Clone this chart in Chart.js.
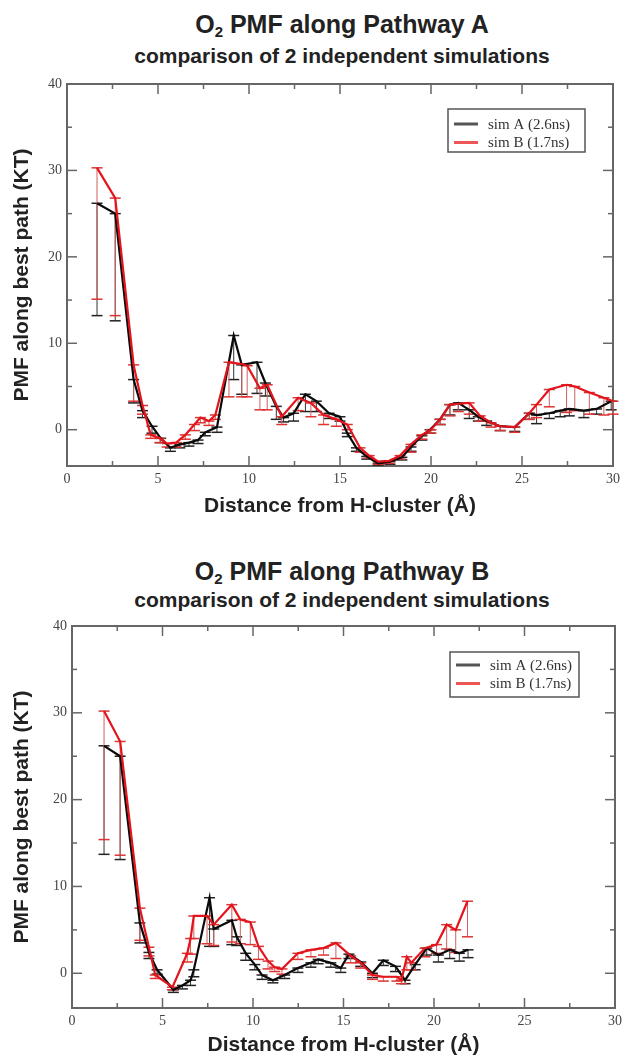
<!DOCTYPE html>
<html>
<head>
<meta charset="utf-8">
<title>O2 PMF along Pathways A and B</title>
<script src="https://cdn.jsdelivr.net/npm/chart.js@4.4.1/dist/chart.umd.min.js"></script>
<style>
  html, body { margin: 0; padding: 0; background: #fff; }
  body {
    position: relative; width: 627px; height: 1057px; overflow: hidden;
    font-family: "Liberation Sans", Arial, sans-serif; color: #222;
  }
  .title, .subtitle {
    position: absolute; left: 42px; width: 600px; text-align: center; font-weight: bold;
  }
  .title { font-size: 25px; line-height: 30px; }
  .subtitle { font-size: 21px; line-height: 24px; }
  .title sub { font-size: 15px; vertical-align: baseline; position: relative; top: 4px; }
  canvas { position: absolute; left: 0; }
</style>
</head>
<body>
<div class="title" style="top:9px">O<sub>2</sub> PMF along Pathway A</div>
<div class="subtitle" style="top:44px">comparison of 2 independent simulations</div>
<canvas id="chart-a" width="627" height="460" style="top:70px"></canvas>

<div class="title" style="top:556px">O<sub>2</sub> PMF along Pathway B</div>
<div class="subtitle" style="top:588px">comparison of 2 independent simulations</div>
<canvas id="chart-b" width="627" height="457" style="top:612px"></canvas>

<script>
'use strict';

// ---- Axis ticks ----
const xMajorTicks = [0, 5, 10, 15, 20, 25, 30];
const xMinorTicks = [2.5, 7.5, 12.5, 17.5, 22.5, 27.5];
const yMajorTicks = [0, 10, 20, 30, 40];
const yMinorTicks = [5, 15, 25, 35];
const xLabel = 'Distance from H-cluster (\u00C5)';
const yLabel = 'PMF along best path (KT)';
const seriesNames = ['sim A (2.6ns)', 'sim B (1.7ns)'];

// ---- Pathway A, sim A (black) ----
const pathA_simA_x = [1.65, 2.65, 3.66, 4.15, 4.67, 5.15, 5.68, 6.2, 6.7, 7.2, 7.6, 8.24, 9.16, 9.6, 10.44,
  10.9, 11.5, 11.9, 12.45, 13.1, 13.7, 14.4, 15.0, 15.4, 15.9, 16.47, 17.1, 17.75, 18.4, 18.9,
  19.5, 19.95, 20.5, 21.04, 21.5, 22.1, 22.6, 23.06, 23.8, 24.6, 25.4, 25.8, 26.5, 27.1, 27.6,
  28.4, 29.1, 29.9];
const pathA_simA_y = [26.2, 25.0, 5.8, 2.2, 0.4, -1.0, -2.1, -1.7, -1.5, -1.2, -0.3, 0.3, 10.9, 7.5, 7.8,
  5.4, 2.7, 1.4, 1.9, 4.1, 3.3, 1.9, 1.5, -0.4, -2.1, -3.1, -3.9, -3.7, -3.2, -2.0,
  -0.7, 0.0, 1.2, 2.9, 3.1, 2.3, 1.5, 1.0, 0.4, 0.3, 1.9, 1.7, 1.9, 2.2, 2.4,
  2.2, 2.4, 3.3];
const pathA_simA_err = [13.0, 12.4, 2.7, 0.8, 0.8, 0.5, 0.4, 0.4, 0.4, 0.4, 0.4, 0.6, 5.1, 3.4, 3.6,
  1.5, 1.5, 0.5, 0.9, 2.0, 1.2, 0.6, 0.5, 0.4, 0.4, 0.3, 0.2, 0.3, 0.3, 0.5,
  0.5, 0.4, 0.6, 1.2, 0.8, 1.0, 0.5, 0.5, 0.5, 0.5, 0.7, 1.0, 0.6, 0.7, 0.8,
  0.8, 0.6, 1.0];

// ---- Pathway A, sim B (red) ----
const pathA_simB_x = [1.65, 2.65, 3.66, 4.15, 4.6, 5.1, 5.5, 6.0, 6.5, 7.0, 7.33, 7.8, 8.15, 8.9, 9.6,
  9.9, 10.6, 11.0, 11.8, 12.7, 13.4, 14.1, 14.8, 15.4, 16.1, 16.6, 17.1, 17.7, 18.3, 18.9,
  19.5, 20.0, 20.5, 21.04, 21.5, 22.1, 22.7, 23.3, 23.8, 24.6, 25.4, 25.8, 26.5, 27.45, 27.9,
  28.7, 29.5, 30.0];
const pathA_simB_y = [30.3, 26.8, 7.5, 2.8, -0.6, -1.0, -1.6, -1.5, -0.6, 0.6, 1.4, 1.0, 1.7, 7.8, 7.6,
  7.4, 4.8, 5.2, 1.5, 3.7, 3.1, 1.7, 1.2, 0.6, -2.1, -3.0, -3.7, -3.6, -3.0, -1.7,
  -0.6, 0.0, 1.2, 2.9, 3.0, 3.1, 1.6, 0.8, 0.4, 0.3, 1.9, 2.9, 4.65, 5.2, 5.0,
  4.3, 3.7, 3.3];
const pathA_simB_err = [15.2, 13.6, 4.2, 1.0, 0.4, 0.5, 0.4, 0.5, 0.5, 0.7, 0.6, 0.5, 0.5, 4.0, 3.8,
  3.6, 2.5, 2.9, 0.9, 1.5, 1.6, 1.1, 0.8, 0.6, 0.5, 0.3, 0.3, 0.3, 0.4, 0.9,
  0.5, 0.4, 0.6, 1.3, 0.9, 1.3, 0.6, 0.5, 0.5, 0.6, 0.7, 1.5, 2.0, 3.2, 2.8,
  2.5, 2.0, 1.5];

// ---- Pathway B, sim A (black) ----
const pathB_simA_x = [1.77, 2.66, 3.75, 4.25, 4.7, 5.6, 6.1, 6.55, 6.73, 7.6, 7.83, 8.83, 9.1, 9.6, 10.1,
  10.5, 11.1, 11.75, 12.48, 13.2, 13.6, 14.3, 14.85, 15.3, 15.95, 16.6, 17.2, 17.87, 18.4, 18.96,
  19.6, 20.24, 20.87, 21.4, 21.88];
const pathB_simA_y = [26.2, 25.0, 5.8, 2.4, 0.4, -1.9, -1.4, -0.8, 0.4, 8.7, 5.1, 6.1, 4.2, 2.3, 1.0,
  -0.2, -0.8, -0.2, 0.6, 1.2, 1.6, 1.2, 0.6, 2.2, 1.3, 0.0, 1.5, 0.8, -0.8, 1.0,
  2.9, 2.1, 2.7, 2.3, 2.7];
const pathB_simA_err = [12.5, 11.9, 2.3, 0.7, 0.5, 0.3, 0.4, 0.6, 0.8, 5.6, 2.0, 2.8, 1.0, 0.8, 0.6,
  0.5, 0.3, 0.4, 0.5, 0.5, 0.5, 0.5, 0.5, 0.5, 0.5, 0.5, 0.6, 0.6, 0.4, 0.6,
  0.8, 0.8, 1.0, 0.9, 0.9];

// ---- Pathway B, sim B (red) ----
const pathB_simB_x = [1.77, 2.66, 3.75, 4.25, 4.6, 5.55, 6.37, 6.55, 6.73, 7.46, 7.83, 8.83, 9.3, 9.85, 10.3,
  10.83, 11.2, 11.6, 12.48, 13.2, 13.9, 14.58, 15.4, 15.95, 16.6, 17.2, 17.95, 18.2, 18.5, 18.75,
  19.5, 20.14, 20.7, 21.2, 21.85];
const pathB_simB_y = [30.2, 26.7, 7.5, 3.0, -0.2, -1.6, 2.3, 4.0, 6.6, 6.6, 5.6, 7.9, 6.2, 5.9, 3.1,
  1.4, 0.7, 0.5, 2.3, 2.7, 2.9, 3.5, 2.0, 1.2, -0.2, -0.4, -0.4, -0.8, 1.9, 1.2,
  2.9, 3.3, 5.6, 5.0, 8.3];
const pathB_simB_err = [14.8, 13.1, 3.7, 1.0, 0.4, 0.3, 1.0, 1.8, 2.6, 3.2, 2.4, 4.3, 2.8, 2.6, 1.5,
  0.9, 0.5, 0.6, 0.7, 0.8, 0.8, 1.8, 0.8, 0.6, 0.5, 0.5, 0.5, 0.4, 1.5, 0.8,
  1.0, 1.0, 2.8, 2.6, 4.1];

const AXIS_GRAY = '#666';
const SERIF = '"Liberation Serif", "Times New Roman", serif';
const SANS = '"Liberation Sans", Arial, sans-serif';

function toPoints(xs, ys) {
  return xs.map((x, i) => ({ x, y: ys[i] }));
}

function strokeLine(ctx, x1, y1, x2, y2) {
  ctx.beginPath();
  ctx.moveTo(x1, y1);
  ctx.lineTo(x2, y2);
  ctx.stroke();
}

// ---- Frame with inward ticks (grace style) ----
const framePlugin = {
  id: 'frame',
  beforeDatasetsDraw(chart) {
    const { ctx, chartArea: a, scales: { x, y } } = chart;
    ctx.save();
    ctx.strokeStyle = AXIS_GRAY;
    ctx.lineWidth = 1.5;
    xMajorTicks.concat(xMinorTicks).forEach(v => {
      const px = x.getPixelForValue(v);
      const len = xMajorTicks.includes(v) ? 10 : 5;
      strokeLine(ctx, px, a.bottom, px, a.bottom - len);
      strokeLine(ctx, px, a.top, px, a.top + len);
    });
    yMajorTicks.concat(yMinorTicks).forEach(v => {
      const py = y.getPixelForValue(v);
      const len = yMajorTicks.includes(v) ? 10 : 5;
      strokeLine(ctx, a.left, py, a.left + len, py);
      strokeLine(ctx, a.right, py, a.right - len, py);
    });
    ctx.lineWidth = 2;
    ctx.strokeRect(a.left, a.top, a.width, a.height);
    ctx.restore();
  }
};

// ---- Error bars (drawn under the lines) ----
const errorBarPlugin = {
  id: 'errorBars',
  beforeDatasetsDraw(chart) {
    const { ctx, scales: { x, y } } = chart;
    ctx.save();
    chart.data.datasets.slice().sort((p, q) => q.order - p.order).forEach(ds => {
      ds.data.forEach((p, i) => {
        const px = x.getPixelForValue(p.x);
        const top = y.getPixelForValue(p.y);
        const bot = y.getPixelForValue(p.y - ds.err[i]);
        ctx.strokeStyle = ds.barColor;
        ctx.lineWidth = 1;
        strokeLine(ctx, px, top, px, bot);
        ctx.strokeStyle = ds.capColor;
        ctx.lineWidth = 1.5;
        strokeLine(ctx, px - 5.5, top, px + 5.5, top);
        strokeLine(ctx, px - 5.5, bot, px + 5.5, bot);
      });
    });
    ctx.restore();
  }
};

// ---- Legend box inside the plot ----
const legendPlugin = {
  id: 'simLegend',
  afterDraw(chart, args, opts) {
    const { ctx, chartArea: a } = chart;
    const x0 = a.right - opts.right - opts.width;
    const y0 = a.top + opts.top;
    ctx.save();
    ctx.fillStyle = '#fff';
    ctx.fillRect(x0, y0, opts.width, opts.height);
    ctx.strokeStyle = '#555';
    ctx.lineWidth = 1.5;
    ctx.strokeRect(x0, y0, opts.width, opts.height);
    const items = chart.data.datasets.slice().sort((p, q) => q.order - p.order);
    items.forEach((ds, i) => {
      const yy = y0 + opts.firstRow + i * opts.rowGap;
      ctx.strokeStyle = ds.legendColor;
      ctx.lineWidth = 3;
      strokeLine(ctx, x0 + 6, yy, x0 + 30, yy);
      ctx.fillStyle = '#333';
      ctx.font = '15px ' + SERIF;
      ctx.textBaseline = 'middle';
      ctx.fillText(ds.label, x0 + 40, yy + 1);
    });
    ctx.restore();
  }
};

function buildChart(canvasId, s) {
  const tickFont = { family: SERIF, size: 14 };
  const titleFont = { family: SANS, size: 21, weight: 'bold' };
  return new Chart(document.getElementById(canvasId), {
    type: 'line',
    data: {
      datasets: [{
        label: seriesNames[0],
        data: toPoints(s.xA, s.yA),
        err: s.eA,
        borderColor: '#0a0a0a',
        barColor: '#333',
        capColor: '#222',
        legendColor: '#555',
        borderWidth: 2.2,
        pointRadius: 0,
        tension: 0,
        order: 1
      }, {
        label: seriesNames[1],
        data: toPoints(s.xB, s.yB),
        err: s.eB,
        borderColor: '#e3141c',
        barColor: '#d06060',
        capColor: '#dd3333',
        legendColor: '#ee5555',
        borderWidth: 2.2,
        pointRadius: 0,
        tension: 0,
        order: 0
      }]
    },
    options: {
      responsive: false,
      animation: false,
      devicePixelRatio: 1,
      layout: { padding: { top: 14, right: s.padRight, bottom: 0, left: 0 } },
      plugins: {
        legend: { display: false },
        tooltip: { enabled: false },
        simLegend: s.legend
      },
      scales: {
        x: {
          type: 'linear',
          min: 0,
          max: 30,
          afterBuildTicks: sc => { sc.ticks = xMajorTicks.map(v => ({ value: v })); },
          afterFit: sc => { sc.height = s.xAxisHeight; },
          grid: { display: false, drawTicks: false },
          border: { display: false },
          ticks: { font: tickFont, color: '#444', padding: 5, maxRotation: 0 },
          title: { display: true, text: xLabel, font: titleFont, color: '#222', padding: { top: 0, bottom: s.xTitlePad } }
        },
        y: {
          type: 'linear',
          min: s.yMin,
          max: 40,
          afterBuildTicks: sc => { sc.ticks = yMajorTicks.map(v => ({ value: v })); },
          afterFit: sc => { sc.width = s.yAxisWidth; },
          grid: { display: false, drawTicks: false },
          border: { display: false },
          ticks: { font: tickFont, color: '#444', padding: 5 },
          title: { display: true, text: yLabel, font: titleFont, color: '#222', padding: { top: 10, bottom: 0 } }
        }
      }
    },
    plugins: [framePlugin, errorBarPlugin, legendPlugin]
  });
}

buildChart('chart-a', {
  xA: pathA_simA_x, yA: pathA_simA_y, eA: pathA_simA_err,
  xB: pathA_simB_x, yB: pathA_simB_y, eB: pathA_simB_err,
  yMin: -4.2, padRight: 14, yAxisWidth: 67, xAxisHeight: 64, xTitlePad: 11,
  legend: { right: 28, top: 25, width: 137, height: 43, firstRow: 15, rowGap: 18.5 }
});

buildChart('chart-b', {
  xA: pathB_simA_x, yA: pathB_simA_y, eA: pathB_simA_err,
  xB: pathB_simB_x, yB: pathB_simB_y, eB: pathB_simB_err,
  yMin: -4.0, padRight: 8, yAxisWidth: 72, xAxisHeight: 61, xTitlePad: 11,
  legend: { right: 36, top: 26, width: 129, height: 45, firstRow: 13, rowGap: 18.5 }
});
</script>
</body>
</html>
